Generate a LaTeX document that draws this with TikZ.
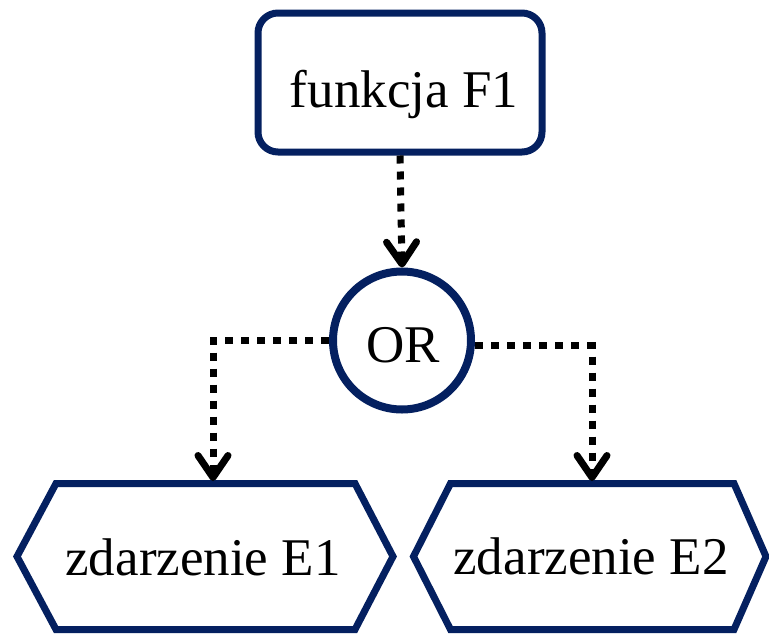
\documentclass[tikz,border=0pt]{standalone}
\usepackage{fontspec}
\setmainfont{Liberation Serif}
\usetikzlibrary{arrows.meta}
\definecolor{navy}{RGB}{4,32,96}
\begin{document}
\begin{tikzpicture}[x=1pt,y=-1pt,
  lbl/.style={font=\fontsize{53}{62}\selectfont, text=black, anchor=base, inner sep=0pt},
  funcbox/.style={draw=navy, line width=7pt, rounded corners=20pt, minimum width=284pt, minimum height=139pt, inner sep=0pt},
  orbox/.style={draw=navy, line width=8pt, circle, minimum size=138pt, inner sep=0pt},
  evline/.style={draw=navy, line width=7pt, line join=miter},
  flow/.style={line width=7pt, dash pattern=on 8pt off 8pt, -{Straight Barb[length=22pt,width=30pt,line cap=round,line join=round]}}
]
\useasboundingbox (0,0) rectangle (769,635);
% function box
\node[funcbox] (F1) at (400,82.5) {};
\node[lbl] (F1t) at (404,107) {funkcja F1};
% OR connector
\node[orbox] (OR) at (402,340.5) {};
\node[lbl] (ORt) at (403.5,362) {OR};
% events
\draw[evline] (17,556.5) -- (56,483.5) -- (355,483.5) -- (393,556.5) -- (355,629.5) -- (56,629.5) -- cycle;
\node[lbl] (E1) at (203,575) {zdarzenie E1};
\draw[evline] (413.5,556.5) -- (450.5,483.5) -- (734,483.5) -- (766,556.5) -- (734,629.5) -- (450.5,629.5) -- cycle;
\node[lbl] (E2) at (591,574) {zdarzenie E2};
\coordinate (E1t) at (213,481);
\coordinate (E2t) at (592,481);
% connectors
\draw[flow] (F1.south) -- (OR.north);
\draw[flow] (OR.west) -| (E1t);
\draw[flow] ([yshift=-5pt]OR.east) -| (E2t);
\end{tikzpicture}
\end{document}
